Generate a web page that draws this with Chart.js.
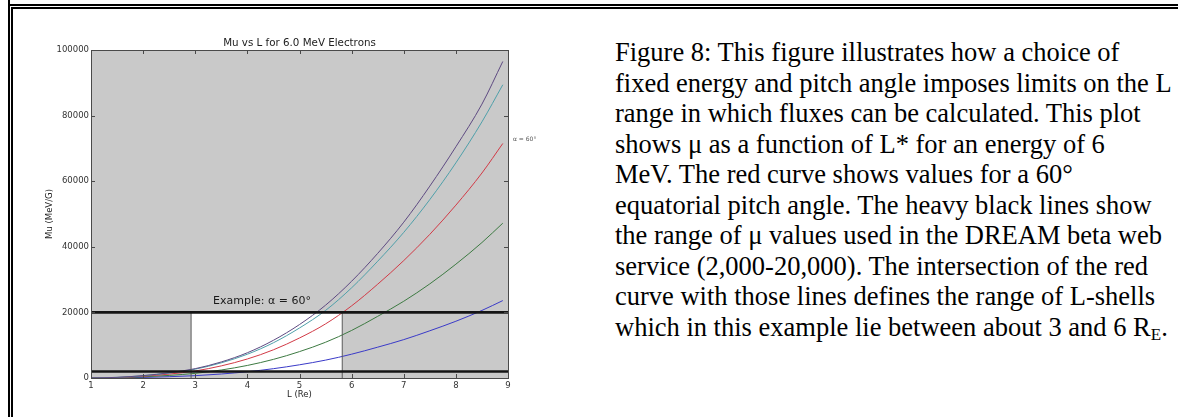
<!DOCTYPE html>
<html><head><meta charset="utf-8">
<script src="https://cdn.jsdelivr.net/npm/chart.js@4.4.1/dist/chart.umd.min.js"></script>
<style>
html,body{margin:0;padding:0;background:#fff;width:1178px;height:417px;overflow:hidden;position:relative}
.ln{position:absolute;background:#000}
#wrap{position:absolute;left:0;top:0;width:600px;height:417px}
#cap{position:absolute;left:615px;top:37px;font-family:"Liberation Serif","Times New Roman",serif;font-size:26.5px;line-height:30.5px;color:#000;white-space:nowrap}
#cap sub{font-size:17px;vertical-align:-4px;line-height:0}
</style></head><body>
<div class="ln" style="left:8px;top:0;width:2px;height:417px"></div>
<div class="ln" style="left:8px;top:4px;width:1170px;height:2px"></div>
<div class="ln" style="left:11px;top:7px;width:2px;height:410px"></div>
<div class="ln" style="left:11px;top:7px;width:1167px;height:2px"></div>
<div id="wrap"><canvas id="c" width="600" height="417"></canvas></div>
<div id="cap">Figure 8: This figure illustrates how a choice of<br>fixed energy and pitch angle imposes limits on the L<br>range in which fluxes can be calculated. This plot<br>shows μ as a function of L* for an energy of 6<br>MeV. The red curve shows values for a 60°<br>equatorial pitch angle. The heavy black lines show<br>the range of μ values used in the DREAM beta web<br>service (2,000-20,000). The intersection of the red<br>curve with those lines defines the range of L-shells<br>which in this example lie between about 3 and 6 R<sub>E</sub>.</div>
<script>
// ---- data ----
const L = [1, 1.5, 2, 2.5, 3, 3.5, 4, 4.5, 5, 5.5, 6, 6.5, 7, 7.5, 8, 8.5, 8.9];
const mu90 = [0, 200, 730, 1600, 2850, 4900, 7700, 11500, 16300, 22200, 29500, 38000, 47500, 58500, 70500, 83500, 96500];
const mu80 = [0, 190, 690, 1500, 2690, 4630, 7250, 10750, 15250, 20600, 27500, 35600, 44400, 54400, 65600, 78100, 89400];
const mu60 = [0, 150, 550, 1200, 2150, 3700, 5800, 8600, 12200, 16500, 22000, 28600, 35800, 43800, 52700, 62500, 71500];
const mu45 = [0, 100, 360, 790, 1420, 2440, 3830, 5680, 8050, 10900, 14500, 18800, 23400, 28700, 34700, 41300, 47200];
const mu30 = [0, 50, 180, 400, 710, 1220, 1910, 2840, 4030, 5450, 7260, 9400, 11700, 14400, 17300, 20600, 23600];
const muLimits = [2000, 20000];
const lRange = [1, 9];
const exampleL = [2.92, 5.82];
const xTicks = [1, 2, 3, 4, 5, 6, 7, 8, 9];
const yTicks = [0, 20000, 40000, 60000, 80000, 100000];
const titleText = 'Mu vs L for 6.0 MeV Electrons';
const xLabel = 'L (Re)';
const yLabel = 'Mu (MeV/G)';
const exampleText = 'Example: α = 60°';
const exampleAt = [4.28, 23500];
const curveLabel = 'α = 60°';

const pts = (xs, ys) => xs.map((v, i) => ({x: v, y: ys[i]}));
const curve = (data, color) => ({data: pts(L, data), borderColor: color, borderWidth: 1, pointRadius: 0, cubicInterpolationMode: 'monotone', fill: false});
const hline = v => ({data: pts(lRange, [v, v]), borderColor: '#141414', borderWidth: 2.6, pointRadius: 0, fill: false});
const vline = v => ({data: pts([v, v], [0, muLimits[1]]), borderColor: '#5a5a5a', borderWidth: 1, pointRadius: 0, fill: false});

const deco = {
  id: 'deco',
  beforeDatasetsDraw(chart) {
    const {ctx, chartArea: a, scales: {x, y}} = chart;
    ctx.save();
    ctx.fillStyle = '#c9c9c9';
    ctx.fillRect(a.left, a.top, a.width, a.height);
    const x0 = x.getPixelForValue(exampleL[0]), x1 = x.getPixelForValue(exampleL[1]);
    const y0 = y.getPixelForValue(muLimits[1]), y1 = y.getPixelForValue(muLimits[0]);
    ctx.fillStyle = '#ffffff';
    ctx.fillRect(x0, y0, x1 - x0, y1 - y0);
    ctx.restore();
  },
  afterDraw(chart) {
    const {ctx, chartArea: a, scales: {x, y}} = chart;
    ctx.save();
    ctx.strokeStyle = '#4a4a4a';
    ctx.lineWidth = 1;
    ctx.strokeRect(Math.round(a.left) + 0.5, Math.round(a.top) + 0.5, Math.round(a.width), Math.round(a.height));
    ctx.beginPath();
    xTicks.forEach(v => {
      const p = Math.round(x.getPixelForValue(v)) + 0.5;
      ctx.moveTo(p, a.bottom); ctx.lineTo(p, a.bottom - 4);
      ctx.moveTo(p, a.top); ctx.lineTo(p, a.top + 4);
    });
    yTicks.forEach(v => {
      const p = Math.round(y.getPixelForValue(v)) + 0.5;
      ctx.moveTo(a.left, p); ctx.lineTo(a.left + 4, p);
      ctx.moveTo(a.right, p); ctx.lineTo(a.right - 4, p);
    });
    ctx.stroke();
    ctx.fillStyle = '#222';
    ctx.textAlign = 'center';
    ctx.textBaseline = 'middle';
    ctx.font = '10.3px "DejaVu Sans"';
    ctx.fillText(titleText, (a.left + a.right) / 2, 43);
    ctx.font = '8.5px "DejaVu Sans"';
    ctx.fillText(xLabel, (a.left + a.right) / 2, 395);
    ctx.save();
    ctx.translate(50, (a.top + a.bottom) / 2);
    ctx.rotate(-Math.PI / 2);
    ctx.fillText(yLabel, 0, 0);
    ctx.restore();
    ctx.font = '11px "DejaVu Sans"';
    ctx.fillStyle = '#1a1a1a';
    ctx.fillText(exampleText, x.getPixelForValue(exampleAt[0]), y.getPixelForValue(exampleAt[1]));
    ctx.font = '6px "DejaVu Sans"';
    ctx.fillStyle = '#555';
    ctx.textAlign = 'left';
    ctx.fillText(curveLabel, a.right + 5, y.getPixelForValue(mu60[mu60.length - 1]) - 4);
    ctx.restore();
  }
};

new Chart(document.getElementById('c'), {
  type: 'line',
  data: {
    datasets: [
      hline(muLimits[0]), hline(muLimits[1]),
      vline(exampleL[0]), vline(exampleL[1]),
      curve(mu90, '#5e4a82'),
      curve(mu80, '#4fa0aa'),
      curve(mu60, '#d23a46'),
      curve(mu45, '#3d7a42'),
      curve(mu30, '#3a3ac8')
    ]
  },
  options: {
    responsive: false,
    animation: false,
    layout: {padding: {left: 51, right: 92, top: 50, bottom: 9}},
    plugins: {legend: {display: false}, tooltip: {enabled: false}, title: {display: false}},
    scales: {
      x: {
        type: 'linear', min: lRange[0], max: lRange[1],
        afterFit: s => { s.height = 30; },
        afterBuildTicks: s => { s.ticks = xTicks.map(v => ({value: v})); },
        grid: {display: false, drawTicks: false},
        border: {display: false},
        ticks: {padding: 3, font: {family: 'DejaVu Sans', size: 8.5}, color: '#333', maxRotation: 0, callback: v => String(v)}
      },
      y: {
        type: 'linear', min: yTicks[0], max: yTicks[yTicks.length - 1],
        afterFit: s => { s.width = 40; },
        afterBuildTicks: s => { s.ticks = yTicks.map(v => ({value: v})); },
        grid: {display: false, drawTicks: false},
        border: {display: false},
        ticks: {padding: 2, font: {family: 'DejaVu Sans', size: 8.5}, color: '#333', callback: v => String(v)}
      }
    }
  },
  plugins: [deco]
});
</script>
</body></html>
